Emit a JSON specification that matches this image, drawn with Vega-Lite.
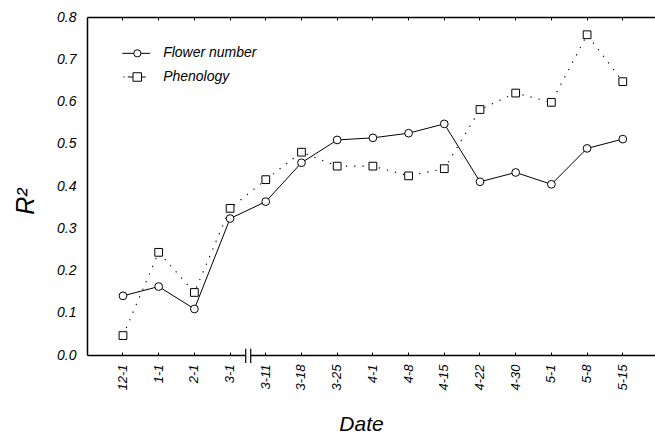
{
  "$schema": "https://vega.github.io/schema/vega-lite/v6.json",
  "autosize": {"type": "none"},
  "width": 568,
  "height": 338,
  "padding": {"left": 87, "top": 17, "right": 0, "bottom": 81},
  "background": "white",
  "config": {
    "view": {"stroke": null},
    "font": "Liberation Sans",
    "axis": {
      "grid": false,
      "domainColor": "black",
      "domainWidth": 1.5,
      "tickColor": "black",
      "labelColor": "black",
      "labelFont": "Liberation Sans",
      "labelFontStyle": "italic",
      "titleFont": "Liberation Sans",
      "titleFontStyle": "italic",
      "titleFontWeight": "normal",
      "titleColor": "black"
    }
  },
  "data": {
    "values": [
      {"date": "12-1", "series": "Flower number", "r2": 0.140},
      {"date": "1-1", "series": "Flower number", "r2": 0.162},
      {"date": "2-1", "series": "Flower number", "r2": 0.109},
      {"date": "3-1", "series": "Flower number", "r2": 0.323},
      {"date": "3-11", "series": "Flower number", "r2": 0.363},
      {"date": "3-18", "series": "Flower number", "r2": 0.455},
      {"date": "3-25", "series": "Flower number", "r2": 0.509},
      {"date": "4-1", "series": "Flower number", "r2": 0.514},
      {"date": "4-8", "series": "Flower number", "r2": 0.525},
      {"date": "4-15", "series": "Flower number", "r2": 0.547},
      {"date": "4-22", "series": "Flower number", "r2": 0.410},
      {"date": "4-30", "series": "Flower number", "r2": 0.432},
      {"date": "5-1", "series": "Flower number", "r2": 0.404},
      {"date": "5-8", "series": "Flower number", "r2": 0.489},
      {"date": "5-15", "series": "Flower number", "r2": 0.511},
      {"date": "12-1", "series": "Phenology", "r2": 0.046},
      {"date": "1-1", "series": "Phenology", "r2": 0.243},
      {"date": "2-1", "series": "Phenology", "r2": 0.148},
      {"date": "3-1", "series": "Phenology", "r2": 0.347},
      {"date": "3-11", "series": "Phenology", "r2": 0.415},
      {"date": "3-18", "series": "Phenology", "r2": 0.480},
      {"date": "3-25", "series": "Phenology", "r2": 0.447},
      {"date": "4-1", "series": "Phenology", "r2": 0.447},
      {"date": "4-8", "series": "Phenology", "r2": 0.424},
      {"date": "4-15", "series": "Phenology", "r2": 0.441},
      {"date": "4-22", "series": "Phenology", "r2": 0.581},
      {"date": "4-30", "series": "Phenology", "r2": 0.620},
      {"date": "5-1", "series": "Phenology", "r2": 0.598},
      {"date": "5-8", "series": "Phenology", "r2": 0.758},
      {"date": "5-15", "series": "Phenology", "r2": 0.647}
    ]
  },
  "resolve": {"axis": {"x": "independent"}},
  "layer": [
    {
      "transform": [{"filter": "datum.series === 'Flower number'"}],
      "mark": {"type": "line", "color": "black", "strokeWidth": 1},
      "encoding": {
        "x": {
          "field": "date",
          "type": "ordinal",
          "sort": null,
          "scale": {"type": "band", "paddingInner": 0, "paddingOuter": 0.455, "align": 0.558},
          "axis": {
            "orient": "bottom",
            "title": "Date",
            "titleFontSize": 21,
            "titleX": 274,
            "titleY": 75,
            "titleAlign": "center",
            "titleBaseline": "alphabetic",
            "labelAngle": 270,
            "labelFontSize": 13,
            "labelPadding": 12,
            "tickSize": -3,
            "tickWidth": 1
          }
        },
        "y": {
          "field": "r2",
          "type": "quantitative",
          "scale": {"domain": [0, 0.8], "nice": false, "zero": true},
          "axis": {
            "title": "R²",
            "titleFontSize": 25,
            "titleAngle": 270,
            "titleX": -54,
            "titleY": 184,
            "titleAlign": "center",
            "titleBaseline": "alphabetic",
            "values": [0, 0.1, 0.2, 0.3, 0.4, 0.5, 0.6, 0.7, 0.8],
            "format": ".1f",
            "ticks": false,
            "labelFontSize": 14,
            "labelPadding": 11
          }
        }
      }
    },
    {
      "transform": [{"filter": "datum.series === 'Phenology'"}],
      "mark": {"type": "line", "color": "black", "strokeWidth": 1.1, "strokeDash": [1.3, 7], "strokeCap": "butt"},
      "encoding": {
        "x": {"field": "date", "type": "ordinal", "sort": null, "axis": null},
        "y": {"field": "r2", "type": "quantitative"}
      }
    },
    {
      "mark": {"type": "point", "filled": true, "fill": "white", "stroke": "black", "strokeWidth": 1, "opacity": 1, "size": 60},
      "encoding": {
        "x": {
          "field": "date",
          "type": "ordinal",
          "sort": null,
          "axis": {"orient": "top", "title": null, "labels": false, "tickSize": -3, "tickWidth": 1}
        },
        "y": {"field": "r2", "type": "quantitative"},
        "shape": {
          "field": "series",
          "type": "nominal",
          "scale": {"domain": ["Flower number", "Phenology"], "range": ["circle", "square"]},
          "legend": null
        }
      }
    },
    {
      "data": {"values": [{}]},
      "mark": {"type": "rule", "color": "white", "strokeWidth": 4, "clip": false},
      "encoding": {
        "x": {"datum": "3-1", "bandPosition": 1, "axis": null},
        "y": {"datum": -0.004},
        "y2": {"datum": 0.004}
      }
    },
    {
      "data": {"values": [{}]},
      "mark": {"type": "rule", "color": "black", "strokeWidth": 1.2, "clip": false},
      "encoding": {
        "x": {"datum": "3-1", "bandPosition": 0.938, "axis": null},
        "y": {"datum": -0.019},
        "y2": {"datum": 0.015}
      }
    },
    {
      "data": {"values": [{}]},
      "mark": {"type": "rule", "color": "black", "strokeWidth": 1.2, "clip": false},
      "encoding": {
        "x": {"datum": "3-11", "bandPosition": 0.078, "axis": null},
        "y": {"datum": -0.019},
        "y2": {"datum": 0.015}
      }
    },
    {
      "data": {"values": [{}]},
      "mark": {"type": "rule", "color": "black", "strokeWidth": 1},
      "encoding": {
        "x": {"datum": "12-1", "bandPosition": 0.482, "axis": null},
        "x2": {"datum": "1-1", "bandPosition": 0.26},
        "y": {"datum": 0.714}
      }
    },
    {
      "data": {"values": [{}]},
      "mark": {"type": "point", "shape": "circle", "filled": true, "fill": "white", "stroke": "black", "strokeWidth": 1, "opacity": 1, "size": 52},
      "encoding": {
        "x": {"datum": "12-1", "bandPosition": 0.902, "axis": null},
        "y": {"datum": 0.714}
      }
    },
    {
      "data": {"values": [{}]},
      "mark": {"type": "text", "align": "left", "baseline": "middle", "font": "Liberation Sans", "fontStyle": "italic", "fontSize": 14, "color": "black"},
      "encoding": {
        "x": {"datum": "1-1", "bandPosition": 0.625, "axis": null},
        "y": {"datum": 0.714},
        "text": {"value": "Flower number"}
      }
    },
    {
      "data": {"values": [{}]},
      "mark": {"type": "rule", "color": "black", "strokeWidth": 1, "strokeDash": [1.2, 3, 10, 0]},
      "encoding": {
        "x": {"datum": "12-1", "bandPosition": 0.515, "axis": null},
        "x2": {"datum": "12-1", "bandPosition": 0.782},
        "y": {"datum": 0.658}
      }
    },
    {
      "data": {"values": [{}]},
      "mark": {"type": "rule", "color": "black", "strokeWidth": 1},
      "encoding": {
        "x": {"datum": "1-1", "bandPosition": 0.006, "axis": null},
        "x2": {"datum": "1-1", "bandPosition": 0.137},
        "y": {"datum": 0.658}
      }
    },
    {
      "data": {"values": [{}]},
      "mark": {"type": "point", "shape": "square", "filled": true, "fill": "white", "stroke": "black", "strokeWidth": 1, "opacity": 1, "size": 72},
      "encoding": {
        "x": {"datum": "12-1", "bandPosition": 0.899, "axis": null},
        "y": {"datum": 0.658}
      }
    },
    {
      "data": {"values": [{}]},
      "mark": {"type": "text", "align": "left", "baseline": "middle", "font": "Liberation Sans", "fontStyle": "italic", "fontSize": 14, "color": "black"},
      "encoding": {
        "x": {"datum": "1-1", "bandPosition": 0.625, "axis": null},
        "y": {"datum": 0.658},
        "text": {"value": "Phenology"}
      }
    }
  ]
}
